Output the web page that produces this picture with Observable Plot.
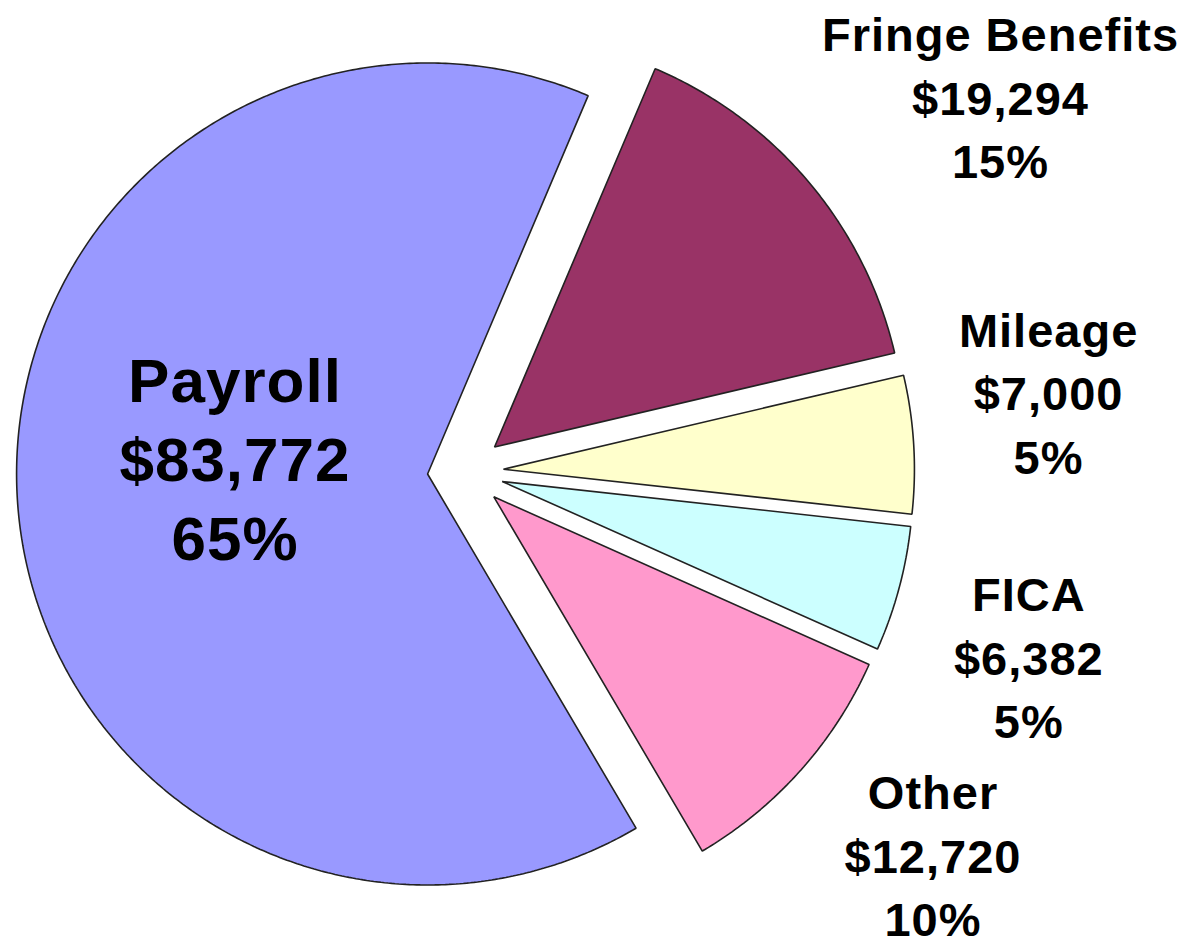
<!DOCTYPE html>
<html>
<head>
<meta charset="utf-8">
<script src="https://cdn.jsdelivr.net/npm/d3@7"></script>
<script src="https://cdn.jsdelivr.net/npm/@observablehq/plot@0.6"></script>
<style>
  html, body { margin: 0; padding: 0; background: #fff; }
  #chart svg { display: block; }
  #chart svg text { letter-spacing: 1px; }
</style>
</head>
<body>
<div id="chart"></div>
<script>
// ---- data ----
const categories = ["Fringe Benefits", "Mileage", "FICA", "Other", "Payroll"];
const amounts = [19294, 7000, 6382, 12720, 83772];

// ---- styles ----
const sliceColors = ["#993366", "#FFFFCC", "#CCFFFF", "#FF99CC", "#9999FF"];

// ---- layout (pixels) ----
const W = 1197, H = 949;
const CX = 465, CY = 471, R = 411;       // pie centre and radius
const EXPLODE = 38;                       // every slice pulled out
const START_DEG = 23;                     // angle of first slice
const OUT_FONT = 47, IN_FONT = 62;
const LX = 518, LY = 490, BLOCK_H = 190;  // outside-label track
const INNER_R = 231;                      // inside label distance
const labelNudge = {                      // [dx, dy] px
  "Fringe Benefits": [8, 0],
  "Mileage": [-20, -46],
  "FICA": [-6, 30],
  "Other": [18, -9],
  "Payroll": [0, -31]
};
const FONT = "'Liberation Sans', Arial, Helvetica, sans-serif";

const total = d3.sum(amounts);
const a0 = START_DEG * Math.PI / 180;
const slices = d3.pie().sort(null).value(d => d.amount)
  .startAngle(a0).endAngle(a0 + 2 * Math.PI)(
    categories.map((name, i) => ({name, amount: amounts[i]}))
  );

// slice outlines in data units (radius = 1, y up)
const e = EXPLODE / R;
const poly = [];
for (const s of slices) {
  const mid = (s.startAngle + s.endAngle) / 2;
  const ox = e * Math.sin(mid), oy = e * Math.cos(mid);
  poly.push({name: s.data.name, x: ox, y: oy});
  const n = Math.max(2, Math.ceil((s.endAngle - s.startAngle) / (Math.PI / 360)));
  for (let k = 0; k <= n; k++) {
    const a = s.startAngle + (s.endAngle - s.startAngle) * k / n;
    poly.push({name: s.data.name, x: ox + Math.sin(a), y: oy + Math.cos(a)});
  }
}

// labels
const ctx = document.createElement("canvas").getContext("2d");
ctx.font = `bold ${OUT_FONT}px ${FONT}`;
const fmtMoney = v => "$" + d3.format(",")(v);
const fmtPct = d3.format(".0%");
const outer = [], inner = [];
for (const s of slices) {
  const name = s.data.name;
  const lines = [name, fmtMoney(s.data.amount), fmtPct(s.data.amount / total)];
  const mid = (s.startAngle + s.endAngle) / 2;
  const sx = Math.sin(mid), sy = Math.cos(mid);
  const [nx, ny] = labelNudge[name];
  if (name === "Payroll") {
    inner.push({text: lines.join("\n"), x: (sx * INNER_R + nx) / R, y: (sy * INNER_R - ny) / R});
  } else {
    const w = d3.max(lines, l => ctx.measureText(l).width);
    outer.push({
      text: lines.join("\n"),
      x: (sx * (LX + w / 2) + nx) / R,
      y: (sy * (LY + BLOCK_H / 2) - ny) / R
    });
  }
}

const chart = Plot.plot({
  width: W, height: H,
  marginTop: 0, marginRight: 0, marginBottom: 0, marginLeft: 0,
  x: {domain: [-CX / R, (W - CX) / R], axis: null},
  y: {domain: [-(H - CY) / R, CY / R], axis: null},
  color: {domain: categories, range: sliceColors},
  style: {background: "#fff", fontFamily: FONT},
  marks: [
    Plot.line(poly, {x: "x", y: "y", z: "name", fill: "name", stroke: "#222",
      strokeWidth: 1.6, curve: "linear-closed", strokeLinejoin: "miter"}),
    Plot.text(outer, {x: "x", y: "y", text: "text", fontSize: OUT_FONT, fontWeight: "bold",
      fontFamily: FONT, lineHeight: 1.351, fill: "#000"}),
    Plot.text(inner, {x: "x", y: "y", text: "text", fontSize: IN_FONT, fontWeight: "bold",
      fontFamily: FONT, lineHeight: 1.282, fill: "#000"})
  ]
});
document.getElementById("chart").appendChild(chart);
</script>
</body>
</html>
